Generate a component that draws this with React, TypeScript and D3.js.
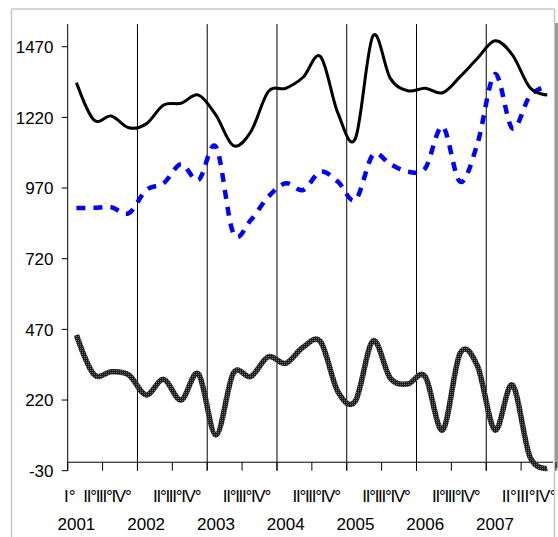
import React from "react";
import * as d3 from "d3";

const years = ["2001", "2002", "2003", "2004", "2005", "2006", "2007"];
const quarterLabels = ["I°", "II°", "III°", "IV°"];
const yTickValues = [-30, 220, 470, 720, 970, 1220, 1470];

const blackSeries = [
  1343, 1211, 1225, 1183, 1197, 1264, 1270, 1299, 1228, 1120, 1169, 1311, 1323, 1362,
  1435, 1234, 1146, 1508, 1358, 1314, 1323, 1307, 1364, 1429, 1491, 1441, 1326, 1299,
];
const blueSeries = [
  899, 900, 902, 881, 963, 987, 1054, 998, 1116, 810, 857, 939, 987, 963, 1028, 992,
  928, 1087, 1054, 1028, 1040, 1187, 992, 1128, 1373, 1181, 1296, 1331,
];
const graySeries = [
  450, 311, 320, 309, 238, 293, 220, 312, 96, 315, 303, 373, 350, 407, 426, 249, 217,
  429, 297, 277, 303, 114, 385, 340, 114, 273, 20, -22,
];

const W = 558;
const H = 537;
const FONT = "Arial, 'Liberation Sans', sans-serif";

export default function App() {
  const n = years.length * 4;
  const idx = d3.range(n);
  const x = d3.scaleBand<number>().domain(idx).range([67.7, 556]).paddingInner(0).paddingOuter(0);
  const bw = x.bandwidth();
  const cx = (i: number) => (x(i) as number) + bw / 2;
  const y = d3.scaleLinear().domain([-30, 1550]).range([470.7, 24.1]);
  const plotTop = y(1550);
  const axisY = y(0);
  const bottomY = y(-30);

  const line = d3
    .line<number>()
    .x((_, i) => cx(i))
    .y((d) => y(d))
    .curve(d3.curveCatmullRom.alpha(0));

  const yearStarts = years.map((_, k) => x(k * 4) as number);
  const halfTicks = d3.range(0, n + 1, 2).map((i) => 67.7 + bw * i);
  const restLabel = quarterLabels.slice(1).join("");

  return (
    <svg
      width={W}
      height={H}
      style={{ position: "absolute", left: 0, top: 0, background: "#fff" }}
      fontFamily={FONT}
    >
      <defs>
        <pattern id="tex" width="2" height="2" patternUnits="userSpaceOnUse">
          <rect width="2" height="2" fill="#1e1e1e" />
          <rect width="1" height="1" fill="#6e6e6e" />
        </pattern>
        <clipPath id="clipPlot">
          <rect x={0} y={0} width={554} height={H} />
        </clipPath>
      </defs>
      <rect width={W} height={H} fill="#fff" />
      {/* chart frame */}
      <line x1={11.5} y1={9} x2={11.5} y2={H} stroke="#c8c8c8" strokeWidth={1.5} />
      <line x1={11.5} y1={9} x2={554.5} y2={9} stroke="#c8c8c8" strokeWidth={1.5} />
      <line x1={554.5} y1={9} x2={554.5} y2={H} stroke="#c8c8c8" strokeWidth={1.5} />
      <rect x={555} y={23} width={3} height={445} fill="#9a9a9a" />

      {/* vertical year gridlines */}
      {yearStarts.slice(1).map((gx, k) => (
        <line key={"g" + k} x1={gx} x2={gx} y1={plotTop} y2={bottomY} stroke="#000" strokeWidth={1} />
      ))}

      {/* y axis */}
      <line x1={67.7} x2={67.7} y1={plotTop} y2={bottomY} stroke="#000" strokeWidth={1} />
      {yTickValues.map((v) => (
        <g key={"yt" + v}>
          <line x1={61.7} x2={67.7} y1={y(v)} y2={y(v)} stroke="#000" strokeWidth={1} />
          <text x={53.5} y={y(v) + 6.2} textAnchor="end" fontSize={17} fill="#000">
            {v}
          </text>
        </g>
      ))}

      {/* x axis */}
      <line x1={67.7} x2={553} y1={axisY} y2={axisY} stroke="#000" strokeWidth={1} />
      {halfTicks.map((tx, k) => (
        <line key={"xt" + k} x1={tx} x2={tx} y1={axisY} y2={bottomY} stroke="#000" strokeWidth={1} />
      ))}

      {/* series */}
      <g clipPath="url(#clipPlot)">
        <path d={line(graySeries) || ""} fill="none" stroke="url(#tex)" strokeWidth={5.5} strokeLinejoin="round" />
        <path
          d={line(blueSeries) || ""}
          fill="none"
          stroke="#0000ff"
          strokeWidth={4.5}
          strokeDasharray="9 8"
        />
        <path d={line(blackSeries) || ""} fill="none" stroke="#000" strokeWidth={3} strokeLinejoin="round" />
      </g>

      {/* category labels */}
      <g clipPath="url(#clipPlot)">
        <text x={64} y={501.5} fontSize={17} fill="#000">
          {quarterLabels[0]}
        </text>
        {years.map((yr, k) => {
          const last = k === years.length - 1;
          return (
            <text
              key={"q" + yr}
              x={yearStarts[k] + (last ? 15.4 : 15.6)}
              y={501.5}
              fontSize={17}
              fill="#000"
              textLength={last ? 55 : 48.4}
              lengthAdjust="spacing"
            >
              {restLabel}
            </text>
          );
        })}
      </g>
      {years.map((yr, k) => (
        <text key={"y" + yr} x={cx(k * 4)} y={530} textAnchor="middle" fontSize={17} fill="#000">
          {yr}
        </text>
      ))}
    </svg>
  );
}
